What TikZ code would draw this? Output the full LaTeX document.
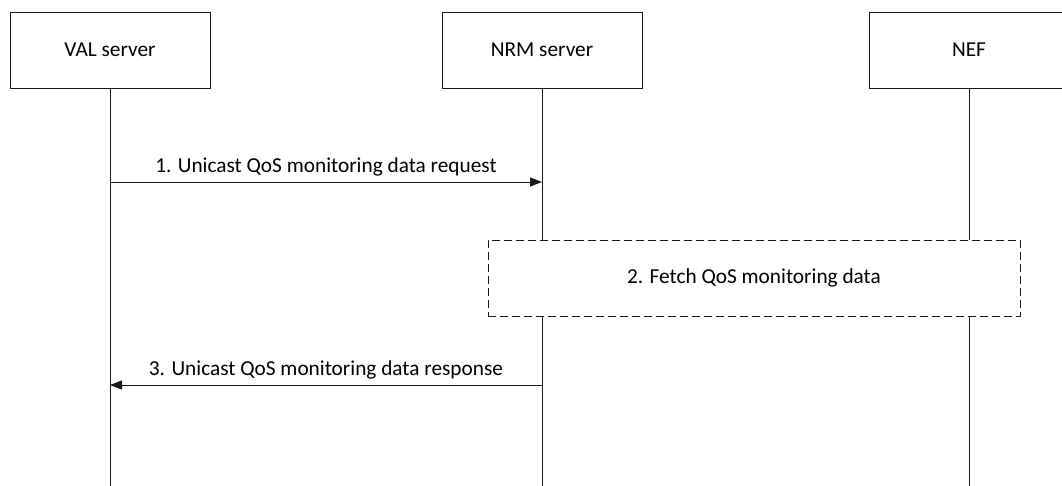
\documentclass[tikz,border=0pt]{standalone}
\usepackage{fontspec}
\setmainfont{Carlito}
\usetikzlibrary{arrows.meta}
\begin{document}
\begin{tikzpicture}[x=1pt,y=-1pt,
  ln/.style={line width=0.9pt,draw=black!90},
  entity/.style={ln,rectangle,minimum width=200pt,minimum height=76pt,inner sep=0pt,font=\fontsize{21.3}{24}\selectfont},
  msg/.style={ln,-{Triangle[length=12pt,width=9pt]}},
  lbl/.style={font=\fontsize{21.3}{24}\selectfont,inner sep=0pt},
  procbox/.style={ln,dash pattern=on 8pt off 4pt,fill=white,rectangle,minimum width=532pt,minimum height=76pt,inner sep=0pt,font=\fontsize{21.3}{24}\selectfont}]
\useasboundingbox (0,0) rectangle (1062,486);
\clip (0,0) rectangle (1062,486);
\node[entity] (val) at (110,50) {VAL server};
\node[entity] (nrm) at (542,50) {NRM server};
\node[entity] (nef) at (969,50) {NEF};
\coordinate (valend) at (110,490);
\coordinate (nrmend) at (542,490);
\coordinate (nefend) at (969,490);
\draw[ln] (val.south) -- (valend);
\draw[ln] (nrm.south) -- (nrmend);
\draw[ln] (nef.south) -- (nefend);
\coordinate (m1s) at (110,182);
\coordinate (m1e) at (542,182);
\draw[msg] (m1s) -- node[lbl,above=5pt] (l1) {1. Unicast QoS monitoring data request} (m1e);
\node[procbox] (fetch) at (754,278) {2. Fetch QoS monitoring data};
\coordinate (m3s) at (542,385);
\coordinate (m3e) at (110,385);
\draw[msg] (m3s) -- node[lbl,above=5pt] (l3) {3. Unicast QoS monitoring data response} (m3e);
\end{tikzpicture}
\end{document}
